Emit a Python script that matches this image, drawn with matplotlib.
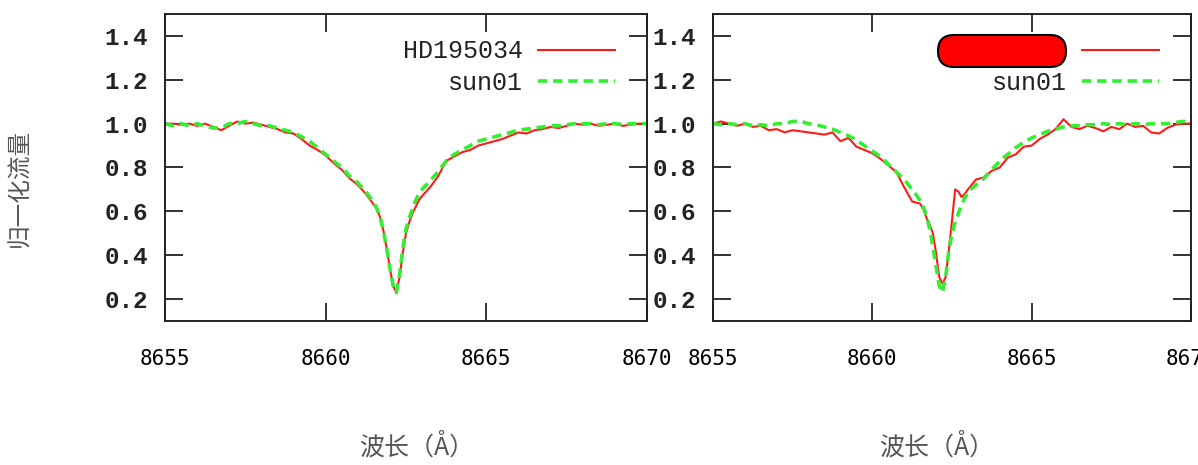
import numpy as np
import matplotlib
matplotlib.use("Agg")
import matplotlib.pyplot as plt
from matplotlib.patches import FancyBboxPatch
from matplotlib.transforms import IdentityTransform

# wavelength grid (Angstrom), finer around the Ca II core
wavelength = [8655.00, 8655.25, 8655.50, 8655.75, 8656.00, 8656.25, 8656.50, 8656.75,
              8657.00, 8657.25, 8657.50, 8657.75, 8658.00, 8658.25, 8658.50, 8658.75,
              8659.00, 8659.25, 8659.50, 8659.75, 8660.00, 8660.25, 8660.50, 8660.75,
              8661.00, 8661.25, 8661.50,
              8661.60, 8661.70, 8661.80, 8661.90, 8662.00, 8662.10, 8662.20, 8662.30,
              8662.40, 8662.50, 8662.60, 8662.70, 8662.80, 8662.90,
              8663.00, 8663.25, 8663.50, 8663.75, 8664.00, 8664.25, 8664.50, 8664.75,
              8665.00, 8665.25, 8665.50, 8665.75, 8666.00, 8666.25, 8666.50, 8666.75,
              8667.00, 8667.25, 8667.50, 8667.75, 8668.00, 8668.25, 8668.50, 8668.75,
              8669.00, 8669.25, 8669.50, 8669.75, 8670.00]

left_star = [1.00, 1.00, 0.995, 1.00, 0.99, 1.00, 0.985, 0.97,
             0.99, 1.01, 1.00, 1.005, 0.995, 0.985, 0.975, 0.96,
             0.955, 0.93, 0.90, 0.88, 0.855, 0.82, 0.79, 0.75,
             0.72, 0.68, 0.63,
             0.61, 0.57, 0.51, 0.43, 0.34, 0.26, 0.23, 0.30,
             0.41, 0.50, 0.55, 0.59, 0.62, 0.65,
             0.67, 0.71, 0.76, 0.83, 0.85, 0.87, 0.88, 0.90,
             0.91, 0.92, 0.93, 0.945, 0.96, 0.955, 0.97, 0.975,
             0.985, 0.98, 0.99, 1.00, 0.995, 1.00, 0.99, 0.995,
             1.00, 0.99, 0.995, 1.00, 1.00]

left_sun = [1.00, 0.99, 1.00, 0.99, 1.00, 0.99, 0.98, 0.98,
            1.00, 1.00, 1.01, 1.00, 0.99, 0.99, 0.98, 0.97,
            0.96, 0.94, 0.92, 0.89, 0.86, 0.83, 0.80, 0.76,
            0.73, 0.69, 0.64,
            0.61, 0.57, 0.51, 0.43, 0.34, 0.26, 0.23, 0.31,
            0.43, 0.52, 0.57, 0.61, 0.65, 0.68,
            0.70, 0.74, 0.78, 0.83, 0.86, 0.88, 0.90, 0.92,
            0.93, 0.94, 0.95, 0.96, 0.97, 0.975, 0.98, 0.985,
            0.99, 0.99, 0.995, 1.00, 1.00, 1.00, 0.995, 1.00,
            1.00, 0.995, 1.00, 1.00, 1.00]

right_star = [1.00, 1.01, 1.00, 0.99, 1.00, 0.985, 0.99, 0.97,
              0.975, 0.96, 0.97, 0.965, 0.96, 0.955, 0.95, 0.96,
              0.92, 0.935, 0.895, 0.88, 0.865, 0.84, 0.81, 0.78,
              0.71, 0.645, 0.635,
              0.61, 0.57, 0.54, 0.50, 0.41, 0.30, 0.27, 0.30,
              0.42, 0.56, 0.70, 0.69, 0.665, 0.68,
              0.70, 0.745, 0.755, 0.785, 0.80, 0.845, 0.86, 0.895,
              0.90, 0.93, 0.95, 0.975, 1.02, 0.985, 0.975, 0.99,
              0.98, 0.965, 0.985, 0.975, 1.00, 0.985, 0.99, 0.96,
              0.955, 0.98, 0.995, 1.00, 1.00]

right_sun = [1.00, 0.995, 1.00, 0.995, 1.00, 0.99, 0.995, 0.99,
             1.00, 1.00, 1.01, 1.01, 1.00, 0.995, 0.985, 0.975,
             0.96, 0.945, 0.925, 0.90, 0.875, 0.85, 0.815, 0.78,
             0.745, 0.70, 0.65,
             0.62, 0.58, 0.52, 0.44, 0.35, 0.26, 0.23, 0.30,
             0.42, 0.50, 0.55, 0.59, 0.63, 0.66,
             0.69, 0.72, 0.75, 0.79, 0.83, 0.86, 0.89, 0.915,
             0.935, 0.95, 0.965, 0.975, 0.985, 0.99, 0.99, 0.995,
             0.995, 1.00, 0.995, 1.00, 0.995, 1.00, 0.995, 1.00,
             1.00, 1.00, 1.005, 1.01, 1.01]

x_ticks = [8655, 8660, 8665, 8670]
y_ticks = [0.2, 0.4, 0.6, 0.8, 1.0, 1.2, 1.4]

cjk = ['Noto Sans CJK SC', 'DejaVu Sans']

fig = plt.figure(figsize=(11.98, 4.65), dpi=100)
ax1 = fig.add_axes([165 / 1198, 144 / 465, 482 / 1198, 307 / 465])
ax2 = fig.add_axes([713 / 1198, 144 / 465, 478 / 1198, 307 / 465])

panels = [(ax1, left_star, left_sun, 'HD195034'), (ax2, right_star, right_sun, 'HD000005')]
for ax, star, sun, name in panels:
    ax.plot(wavelength, star, color='#ff1a1a', lw=1.5, label=name)
    ax.plot(wavelength, sun, color='#33ee33', lw=2.6, ls=(0, (2.6, 1.6)), label='sun01')
    ax.set_xlim(8655, 8670)
    ax.set_ylim(0.1, 1.5)
    ax.set_xticks(x_ticks)
    ax.set_yticks(y_ticks)
    ax.set_xticklabels([str(t) for t in x_ticks], family='DejaVu Sans Mono', fontsize=15)
    ax.set_yticklabels(['%.1f' % t for t in y_ticks], family='Liberation Mono',
                       fontsize=17.5, fontweight='semibold', color='#222222')
    ax.tick_params(direction='in', length=13, width=1.3, top=True, right=True, color='#222222')
    ax.tick_params(axis='x', pad=20)
    ax.tick_params(axis='y', pad=12)
    for sp in ax.spines.values():
        sp.set_linewidth(1.4)
        sp.set_color('#222222')
    leg = ax.legend(loc='upper right', frameon=False, markerfirst=False,
                    prop={'family': 'Liberation Mono', 'size': 18},
                    handlelength=3.1, handletextpad=0.6, labelspacing=0.3,
                    borderaxespad=0.0, bbox_to_anchor=(0.955, 0.95))
    for t in leg.get_texts():
        t.set_color('#222222')

# y label shared on the left
fig.text(20 / 1198, 1 - 188 / 465, '归一化流量', rotation=90, ha='center', va='center',
         fontsize=17, color='#555555', family=cjk)
for xc in (417, 937):
    fig.text(xc / 1198, 1 - 447 / 465, '波长（Å）', ha='center', va='center',
             fontsize=18, color='#555555', family=cjk)

# red redaction pill over the second star name (pixel coordinates)
pill = FancyBboxPatch((938, 465 - 67), 128, 32,
                      boxstyle='round,pad=0,rounding_size=16',
                      transform=IdentityTransform(), facecolor='#ff0000',
                      edgecolor='black', lw=1.5, zorder=10)
fig.patches.append(pill)

fig.savefig('out.png', dpi=100)
